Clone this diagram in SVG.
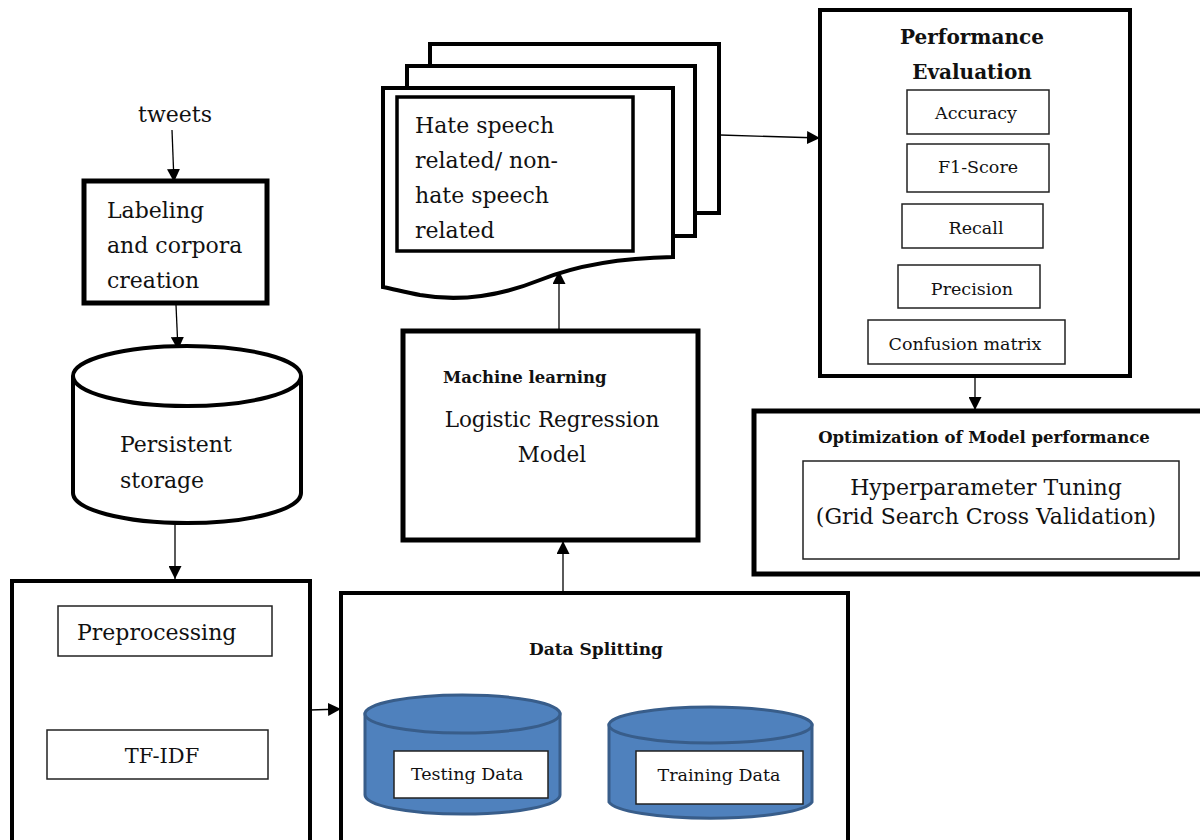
<svg xmlns="http://www.w3.org/2000/svg" width="1200" height="840" viewBox="0 0 1200 840">
<defs>
<marker id="ahb" viewBox="0 0 10 10" refX="10" refY="5" markerWidth="13" markerHeight="13" markerUnits="userSpaceOnUse" orient="auto"><path d="M0,0 L10,5 L0,10 z" fill="#000"/></marker>
</defs>
<style>
text{font-family:"DejaVu Serif","Liberation Serif",serif;fill:#111}
.t{font-size:22px}
.s{font-size:17.5px}
.b{font-weight:bold}
.thick{fill:#fff;stroke:#000;stroke-width:5}
.med{fill:#fff;stroke:#000;stroke-width:4}
.thin{fill:#fff;stroke:#222;stroke-width:1.5}
.cyl{fill:#4f81bd;stroke:#385d8a;stroke-width:3}
.conn line{stroke:#000;stroke-width:1.3}
</style>
<rect width="1200" height="840" fill="#fff"/>

<g class="conn">
<line x1="172" y1="130" x2="174" y2="182" marker-end="url(#ahb)"/>
<line x1="176" y1="305" x2="178" y2="350" marker-end="url(#ahb)"/>
<line x1="175" y1="525" x2="175" y2="579" marker-end="url(#ahb)"/>
<line x1="148" y1="656" x2="149" y2="724" marker-end="url(#ahb)"/>
<line x1="310" y1="710" x2="341" y2="709" marker-end="url(#ahb)"/>
<line x1="563" y1="593" x2="563" y2="541" marker-end="url(#ahb)"/>
<line x1="559" y1="330" x2="559" y2="271" marker-end="url(#ahb)"/>
<line x1="720" y1="135" x2="820" y2="138" marker-end="url(#ahb)"/>
<line x1="975" y1="376" x2="975" y2="410" marker-end="url(#ahb)"/>
</g>

<g id="tweets"><text class="t" x="175" y="122" text-anchor="middle">tweets</text></g>

<g id="labeling">
<rect class="thick" x="84" y="181" width="183" height="122"/>
<text class="t" x="107" y="218">Labeling</text>
<text class="t" x="107" y="253">and corpora</text>
<text class="t" x="107" y="288">creation</text>
</g>

<g id="storage">
<path class="med" d="M73,376 L73,493 A114,30 0 0 0 301,493 L301,376"/>
<ellipse class="med" cx="187" cy="376" rx="114" ry="30"/>
<text class="t" x="120" y="452">Persistent</text>
<text class="t" x="120" y="488">storage</text>
</g>

<g id="preprocessing-group">
<rect class="med" x="12" y="581" width="298" height="280"/>
<g id="preprocessing"><rect class="thin" x="58" y="606" width="214" height="50"/><text class="t" x="77" y="640">Preprocessing</text></g>
<g id="tfidf"><rect class="thin" x="47" y="730" width="221" height="49"/><text class="t" x="162" y="763" text-anchor="middle" style="font-size:21px">TF-IDF</text></g>
</g>

<g id="data-splitting">
<rect class="med" x="341" y="593" width="507" height="270"/>
<text class="b" x="596" y="655" text-anchor="middle" style="font-size:17px">Data Splitting</text>
<g id="testing">
<path class="cyl" d="M365,714 L365,795 A97,19 0 0 0 560,795 L560,714 Z"/>
<ellipse class="cyl" cx="462.5" cy="714" rx="97.5" ry="19"/>
<rect class="thin" x="394" y="751" width="154" height="47"/>
<text class="s" x="467" y="780" text-anchor="middle">Testing Data</text>
</g>
<g id="training">
<path class="cyl" d="M609,725 L609,802 A102,18 0 0 0 812,802 L812,725 Z"/>
<ellipse class="cyl" cx="710.5" cy="725" rx="101.5" ry="18"/>
<rect class="thin" x="636" y="751" width="167" height="53"/>
<text class="s" x="719" y="781" text-anchor="middle">Training Data</text>
</g>
</g>

<g id="machine-learning">
<rect class="thick" x="403" y="331" width="295" height="209"/>
<text class="b" x="443" y="383" style="font-size:16.5px">Machine learning</text>
<text class="t" x="552" y="427" text-anchor="middle" style="font-size:21.5px">Logistic Regression</text>
<text class="t" x="552" y="462" text-anchor="middle" style="font-size:21.5px">Model</text>
</g>

<g id="documents">
<rect class="med" x="430" y="44" width="289" height="169"/>
<rect class="med" x="407" y="66" width="288" height="170"/>
<path class="med" d="M383,88 L673,88 L673,257 C610,258 570,268 540,280 C500,296 460,302 420,295 C405,292 393,289 383,287 Z"/>
<rect class="med" x="397" y="97" width="236" height="154" style="stroke-width:3.5"/>
<text class="t" x="415" y="133">Hate speech</text>
<text class="t" x="415" y="168">related/ non-</text>
<text class="t" x="415" y="203">hate speech</text>
<text class="t" x="415" y="238">related</text>
</g>

<g id="performance">
<rect class="med" x="820" y="10" width="310" height="366"/>
<text class="b" x="972" y="44" text-anchor="middle" style="font-size:20px">Performance</text>
<text class="b" x="972" y="79" text-anchor="middle" style="font-size:20px">Evaluation</text>
<g id="accuracy"><rect class="thin" x="907" y="90" width="142" height="44"/><text class="s" x="976" y="119" text-anchor="middle">Accuracy</text></g>
<g id="f1"><rect class="thin" x="907" y="144" width="142" height="48"/><text class="s" x="978" y="173" text-anchor="middle">F1-Score</text></g>
<g id="recall"><rect class="thin" x="902" y="204" width="141" height="44"/><text class="s" x="976" y="234" text-anchor="middle">Recall</text></g>
<g id="precision"><rect class="thin" x="898" y="265" width="142" height="43"/><text class="s" x="972" y="295" text-anchor="middle">Precision</text></g>
<g id="confusion"><rect class="thin" x="868" y="320" width="197" height="44"/><text class="s" x="965" y="350" text-anchor="middle">Confusion matrix</text></g>
</g>

<g id="optimization">
<rect class="thick" x="754" y="411" width="460" height="163"/>
<text class="b" x="984" y="443" text-anchor="middle" style="font-size:16.5px">Optimization of Model performance</text>
<rect class="thin" x="803" y="461" width="376" height="98"/>
<text class="t" x="986" y="495" text-anchor="middle">Hyperparameter  Tuning</text>
<text class="t" x="986" y="524" text-anchor="middle">(Grid Search  Cross Validation)</text>
</g>
</svg>
